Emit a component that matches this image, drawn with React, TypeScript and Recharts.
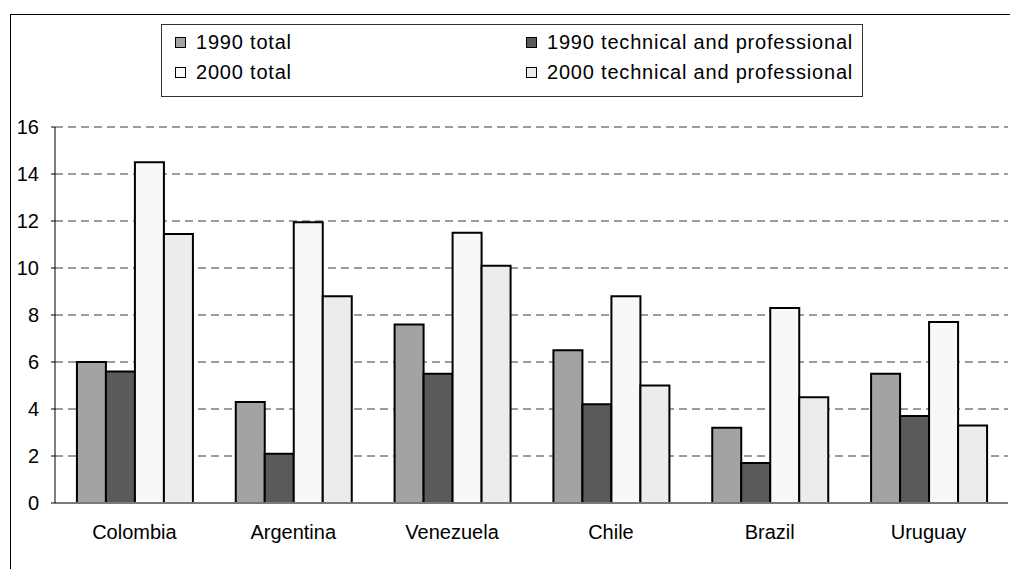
import { BarChart, Bar, XAxis, YAxis, CartesianGrid } from "recharts";

// Share of employment, by country, 1990 vs 2000
const countries = ["Colombia", "Argentina", "Venezuela", "Chile", "Brazil", "Uruguay"];
const total1990 = [6.0, 4.3, 7.6, 6.5, 3.2, 5.5];
const technical1990 = [5.6, 2.1, 5.5, 4.2, 1.7, 3.7];
const total2000 = [14.5, 11.95, 11.5, 8.8, 8.3, 7.7];
const technical2000 = [11.45, 8.8, 10.1, 5.0, 4.5, 3.3];
const yTicks = [0, 2, 4, 6, 8, 10, 12, 14, 16];

const series = [
    { key: "total1990", name: "1990 total", fill: "#a3a3a3" },
    { key: "technical1990", name: "1990 technical and professional", fill: "#5a5a5a" },
    { key: "total2000", name: "2000 total", fill: "#f8f8f8" },
    { key: "technical2000", name: "2000 technical and professional", fill: "#ececec" },
];

const data = countries.map((country, i) => ({
    country,
    total1990: total1990[i],
    technical1990: technical1990[i],
    total2000: total2000[i],
    technical2000: technical2000[i],
}));

const FONT = '"Liberation Sans", Arial, sans-serif';
const FONT_SIZE = 20;

function LegendBox() {
    // two columns: 1990 items on the top row, 2000 items below
    return (
        <div
            style={{
                position: "absolute",
                left: 161,
                top: 24,
                width: 700,
                height: 71,
                border: "1px solid #333",
                background: "#fff",
            }}
        >
            {series.map((s, i) => {
                const col = i % 2;
                const row = Math.floor(i / 2);
                return (
                    <div
                        key={s.key}
                        style={{
                            position: "absolute",
                            left: col === 0 ? 13 : 364,
                            top: row === 0 ? 5 : 35,
                            height: 24,
                            display: "flex",
                            alignItems: "center",
                            fontSize: FONT_SIZE,
                            letterSpacing: 0.8,
                            color: "#000",
                            whiteSpace: "nowrap",
                        }}
                    >
                        <span
                            style={{
                                display: "inline-block",
                                width: 9,
                                height: 9,
                                border: "1.5px solid #000",
                                background: s.fill,
                                marginRight: 10,
                            }}
                        />
                        {s.name}
                    </div>
                );
            })}
        </div>
    );
}

export default function App() {
    return (
        <div
            style={{
                position: "absolute",
                left: 0,
                top: 0,
                width: 1010,
                height: 569,
                background: "#fff",
                fontFamily: FONT,
                overflow: "hidden",
            }}
        >
            <div
                style={{
                    position: "absolute",
                    left: 10,
                    top: 14,
                    width: 1010,
                    height: 569,
                    borderTop: "1px solid #000",
                    borderLeft: "1px solid #000",
                }}
            />
            <BarChart
                width={1010}
                height={569}
                data={data}
                margin={{ top: 127, right: 2, left: 10, bottom: 36 }}
                barCategoryGap="13.8%"
                barGap={0}
                style={{ position: "absolute", left: 0, top: 0 }}
            >
                <CartesianGrid
                    vertical={false}
                    horizontal
                    strokeDasharray="8 5"
                    stroke="#3a3a3a"
                />
                <XAxis
                    dataKey="country"
                    tickLine={false}
                    tickSize={0}
                    tickMargin={22}
                    height={30}
                    axisLine={{ stroke: "#7a7a7a", strokeWidth: 2 }}
                    tick={{ fill: "#000", fontSize: FONT_SIZE, fontFamily: FONT }}
                />
                <YAxis
                    domain={[0, 16]}
                    ticks={yTicks}
                    width={45}
                    tickSize={4}
                    tickMargin={12}
                    axisLine={{ stroke: "#000" }}
                    tickLine={{ stroke: "#000" }}
                    tick={{ fill: "#000", fontSize: FONT_SIZE, fontFamily: FONT }}
                    interval={0}
                />
                {series.map((s) => (
                    <Bar
                        key={s.key}
                        dataKey={s.key}
                        name={s.name}
                        fill={s.fill}
                        stroke="#000"
                        strokeWidth={2}
                        isAnimationActive={false}
                    />
                ))}
            </BarChart>
            <LegendBox />
        </div>
    );
}
